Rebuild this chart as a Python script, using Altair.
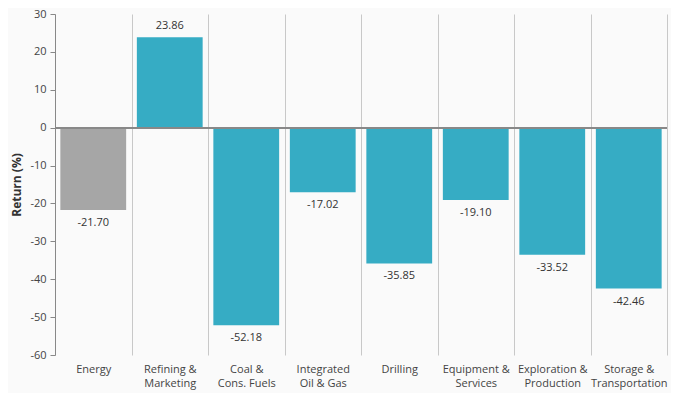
import altair as alt
import pandas as pd

categories = ["Energy", "Refining &|Marketing", "Coal &|Cons. Fuels", "Integrated|Oil & Gas",
              "Drilling", "Equipment &|Services", "Exploration &|Production", "Storage &|Transportation"]
values = [-21.70, 23.86, -52.18, -17.02, -35.85, -19.10, -33.52, -42.46]
groups = ["index", "sub", "sub", "sub", "sub", "sub", "sub", "sub"]
y_ticks = [-60, -50, -40, -30, -20, -10, 0, 10, 20, 30]

df = pd.DataFrame({"cat": categories, "val": values, "grp": groups})

FONT = "Open Sans"
MINUS = "\u2212"

x_scale = alt.Scale(paddingInner=0, paddingOuter=0)
x_axis = alt.Axis(labelAngle=0,
                  labelExpr="isValid(datum.value) ? split(datum.value, '|') : ''",
                  tickBand="extent",
                  grid=True, gridColor="#c8c8c8", gridWidth=1, ticks=False, domain=False,
                  labelPadding=8, labelFontSize=11, labelColor="#444", labelFont=FONT,
                  labelLineHeight=14)
y_scale = alt.Scale(domain=[-60, 30], nice=False)
y_axis = alt.Axis(values=y_ticks, tickCount=10, grid=False, domainColor="#888", tickColor="#888",
                  labelExpr=f"replace(datum.label, '{MINUS}', '-')",
                  labelOverlap=False, labelFlush=False,
                  tickSize=5, labelFontSize=11, labelColor="#444", labelFont=FONT,
                  labelPadding=4, titleFont=FONT, titleFontSize=12, titleFontWeight="bold",
                  titleColor="#333", titlePadding=6)

x = alt.X("cat:N", sort=categories, title=None, scale=x_scale, axis=x_axis)
y = alt.Y("val:Q", title="Return (%)", scale=y_scale, axis=y_axis)

base = alt.Chart(df).transform_calculate(
    lbl=f"replace(format(datum.val, '.2f'), '{MINUS}', '-')",
    zero="0",
)

bars = base.mark_bar(width=alt.RelativeBandSize(0.86)).encode(
    x=x, y=y,
    color=alt.Color("grp:N", scale=alt.Scale(domain=["index", "sub"], range=["#a6a6a6", "#36acc4"]),
                    legend=None),
)

zero = base.mark_rule(color="#888", strokeWidth=1.5).encode(
    y=alt.Y("zero:Q", title="Return (%)", scale=y_scale, axis=y_axis)
)

pos = base.transform_filter("datum.val >= 0").mark_text(
    baseline="bottom", dy=-6, fontSize=11, font=FONT, color="#333"
).encode(x=x, y=y, text="lbl:N")

neg = base.transform_filter("datum.val < 0").mark_text(
    baseline="top", dy=7, fontSize=11, font=FONT, color="#333"
).encode(x=x, y=y, text="lbl:N")

chart = alt.layer(bars, zero, pos, neg).properties(
    width=612, height=341,
    background="#fafafa",
    padding={"left": 47, "top": 6, "right": 4, "bottom": 38},
    autosize=alt.AutoSizeParams(type="none"),
).configure_view(stroke=None)

chart.save("out.html", embed_options={"renderer": "svg", "actions": False})
